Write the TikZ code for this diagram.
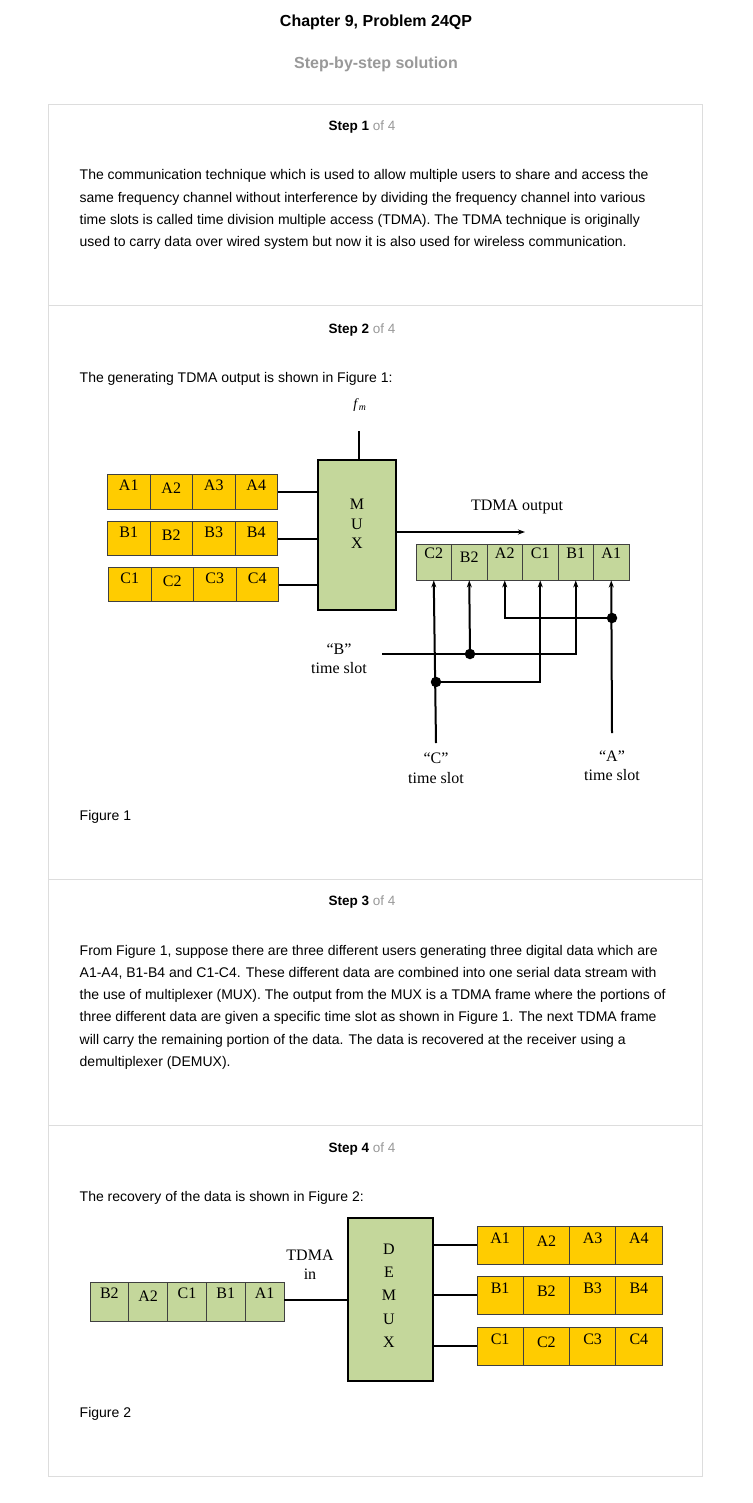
\documentclass[tikz,border=0pt]{standalone}
\usepackage{fontspec}
\setmainfont{Liberation Serif}
\newfontfamily\arial{Liberation Sans}
\usetikzlibrary{arrows.meta}

\definecolor{cellyellow}{HTML}{FFCC00}
\definecolor{cellgreen}{HTML}{C4D79B}
\definecolor{framegray}{HTML}{DDDDDD}
\definecolor{softgray}{HTML}{999999}
\definecolor{celledge}{HTML}{404040}

\begin{document}
\begin{tikzpicture}[x=1pt,y=-1pt,
  every node/.style={inner sep=0pt},
  bodytext/.style={font=\arial\fontsize{14}{16}\selectfont, anchor=base west},
  stephead/.style={font=\arial\fontsize{13.5}{16}\selectfont, anchor=base west},
  pagetitle/.style={font=\arial\bfseries\fontsize{16}{18}\selectfont, anchor=base},
  panel/.style={draw=framegray, line width=1pt},
  serif/.style={font=\fontsize{16}{19.5}\selectfont, align=center},
  cell/.style={draw=celledge, line width=0.8pt, font=\fontsize{16}{18}\selectfont, text height=10.6pt},
  ycell/.style={cell, fill=cellyellow},
  gcell/.style={cell, fill=cellgreen},
  block/.style={draw=black, line width=2.2pt, fill=cellgreen},
  wire/.style={line width=2pt},
  feed/.style={wire, -{Stealth[length=7pt,width=5pt]}},
  junction/.style={circle, fill=black, minimum size=10.5pt},
]
\useasboundingbox (0,0) rectangle (752,1503);
\fill[white] (0,0) rectangle (752,1503);

% page header
\node[pagetitle] (title) at (376,26.7) {Chapter 9, Problem 24QP};
\node[pagetitle, text=softgray] (subtitle) at (376,68.7) {Step-by-step solution};

% solution panel and step separators
\draw[panel] (48.5,104.5) rectangle (702.5,1476.5);
\draw[panel] (48.5,306) -- (702.5,306);
\draw[panel] (48.5,879.3) -- (702.5,879.3);
\draw[panel] (48.5,1125.5) -- (702.5,1125.5);

% step 1
\node[stephead] (h1) at (328.5,131) {\textbf{Step 1} \textcolor{softgray}{of 4}};
\node[bodytext] (s1a) at (79.5,180) {The communication technique which is used to allow multiple users to share and access the};
\node[bodytext] (s1b) at (79.5,202.3) {same frequency channel without interference by dividing the frequency channel into various};
\node[bodytext] (s1c) at (79.5,224.6) {time slots is called time division multiple access (TDMA). The TDMA technique is originally};
\node[bodytext] (s1d) at (79.5,246.9) {used to carry data over wired system but now it is also used for wireless communication.};

% step 2
\node[stephead] (h2) at (328.5,333) {\textbf{Step 2} \textcolor{softgray}{of 4}};
\node[bodytext] (s2a) at (79.5,382) {The generating TDMA output is shown in Figure 1:};

% ---- Figure 1: multiplexing ----
\node[block, minimum width=78pt, minimum height=150pt] (mux) at (357,535) {};
\node[serif] (muxtext) at (357,524) {M\\U\\X};
\node[font=\fontsize{14}{16}\selectfont] (fm) at (360,405) {\textit{f}\textsubscript{\textit{m}}};
\coordinate (fmtop) at (359,431);
\draw[wire] (fmtop) -- (fmtop |- mux.north);

\foreach \r/\y/\L/\x in {a/492/A/107.5, b/538.5/B/107.5, c/584.5/C/108.5} {
  \foreach \i in {1,...,4} {
    \pgfmathsetmacro\dep{ifthenelse(\i==2,7,13)}
    \node[ycell, minimum width=42.5pt, minimum height=34.5pt, text depth=\dep pt]
      (in\r\i) at ({\x+42.5*(\i-0.5)},\y) {\L\i};
  }
  \draw[wire] (in\r4.east) -- (in\r4.east -| mux.west);
}

% serial output frame
\foreach \lab [count=\k] in {C2,B2,A2,C1,B1,A1} {
  \pgfmathsetmacro\dep{ifthenelse(\k==2,10,17)}
  \node[gcell, minimum width=35.5pt, minimum height=36pt, text depth=\dep pt]
    (out\k) at ({416+35.5*(\k-0.5)},562) {\lab};
}
\coordinate (outtip) at (525,532);
\draw[feed] (mux.east |- outtip) -- (outtip);
\node[font=\fontsize{16}{18}\selectfont] (outlabel) at (517,507) {TDMA output};

% time-slot wiring
\coordinate (aend) at (612,733);
\coordinate (bstart) at (382,654);
\coordinate (cend) at (436,743);
\node[junction] (adot) at (612,618) {};
\node[junction] (bdot) at (470,654) {};
\node[junction] (cdot) at (436,682) {};

\draw[feed] (aend) -- (out6.south);
\draw[feed] (adot.center) -| (out3.south);
\draw[feed] (bstart) -| (out5.south);
\draw[feed] (bdot.center) -- (out2.south);
\draw[feed] (cend) -- (out1.south);
\draw[feed] (cdot.center) -| (out4.south);

\node[serif] (bslot) at (339,658.5) {“B”\\time slot};
\node[serif] (cslot) at (436,768) {“C”\\time slot};
\node[serif] (aslot) at (612,765.5) {“A”\\time slot};

\node[bodytext] (fig1) at (79.5,820) {Figure 1};

% step 3
\node[stephead] (h3) at (328.5,905) {\textbf{Step 3} \textcolor{softgray}{of 4}};
\node[bodytext] (s3a) at (79.5,955) {From Figure 1, suppose there are three different users generating three digital data which are};
\node[bodytext] (s3b) at (79.5,977.3) {A1-A4, B1-B4 and C1-C4. These different data are combined into one serial data stream with};
\node[bodytext] (s3c) at (79.5,999.6) {the use of multiplexer (MUX). The output from the MUX is a TDMA frame where the portions of};
\node[bodytext] (s3d) at (79.5,1021.9) {three different data are given a specific time slot as shown in Figure 1. The next TDMA frame};
\node[bodytext] (s3e) at (79.5,1044.2) {will carry the remaining portion of the data. The data is recovered at the receiver using a};
\node[bodytext] (s3f) at (79.5,1066.5) {demultiplexer (DEMUX).};

% step 4
\node[stephead] (h4) at (328.5,1152) {\textbf{Step 4} \textcolor{softgray}{of 4}};
\node[bodytext] (s4a) at (79.5,1201) {The recovery of the data is shown in Figure 2:};

% ---- Figure 2: demultiplexing ----
\node[block, minimum width=85pt, minimum height=163pt] (demux) at (390.5,1299.5) {};
\node[serif, font=\fontsize{16}{23.25}\selectfont] (demuxtext) at (389,1295.5) {D\\E\\M\\U\\X};

\foreach \lab [count=\k] in {B2,A2,C1,B1,A1} {
  \pgfmathsetmacro\dep{ifthenelse(\k==2,10,17)}
  \node[gcell, minimum width=38.8pt, minimum height=39pt, text depth=\dep pt]
    (rx\k) at ({90+38.8*(\k-0.5)},1301.5) {\lab};
}
\draw[wire] (rx5.east |- 0,1300) -- (demux.west |- 0,1300);
\node[serif] (inlabel) at (310,1264.5) {TDMA\\in};

\foreach \r/\y/\L in {a/1245/A, b/1295/B, c/1346/C} {
  \foreach \i in {1,...,4} {
    \pgfmathsetmacro\dep{ifthenelse(\i==2,7,14)}
    \node[ycell, minimum width=46.25pt, minimum height=38pt, text depth=\dep pt]
      (dx\r\i) at ({477+46.25*(\i-0.5)},\y) {\L\i};
  }
  \draw[wire] (demux.east |- dx\r1.west) -- (dx\r1.west);
}

\node[bodytext] (fig2) at (79.5,1417) {Figure 2};
\end{tikzpicture}
\end{document}
